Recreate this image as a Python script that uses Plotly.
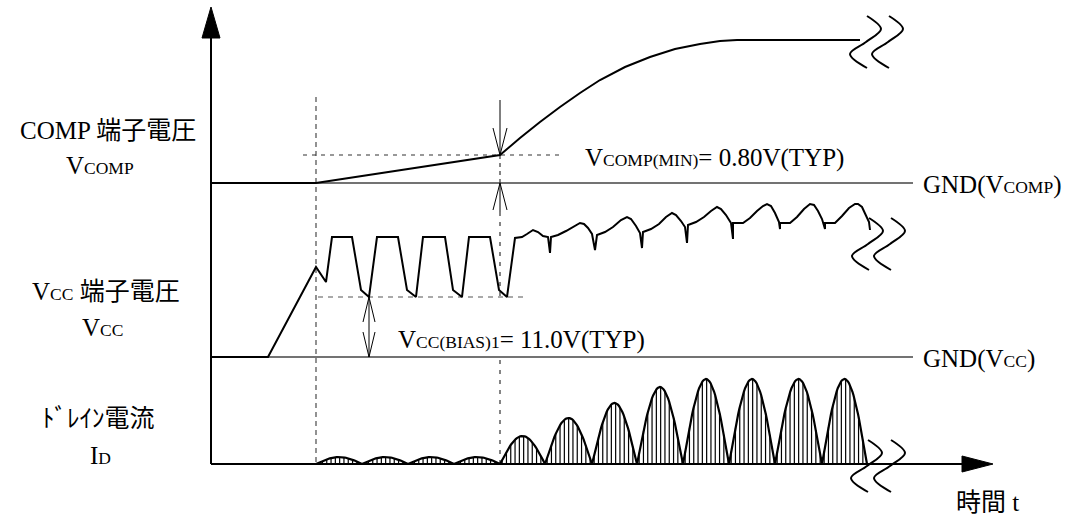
import math
import plotly.graph_objects as go

W, H = 1071, 517
FONT = "Liberation Serif, 'Noto Sans CJK JP', serif"
FS = 25
SUB = '<span style="font-size:17.5px">{}</span>'

# ---------------- diagram frame (diagram units = pixels) ----------------
T0 = 211            # time origin (vertical axis position)
T_END = 993         # tip of time axis arrow
Y_TOP = 7           # tip of vertical axis arrow
ID_BASE = 464       # drain current zero / time axis
GND_COMP = 183
GND_VCC = 357
GND_END = 913
T_START = 316       # start-up instant (first dashed marker)
T_RUN = 500         # V_COMP reaches V_COMP(MIN)
COMP_MIN_LEVEL = 155
VCC_BIAS_LEVEL = 297
VCC_ARROW_T = 369

# ---------------- COMP pin voltage ----------------
comp_t = [211, 316, 500, 520, 540, 560, 580, 600, 625, 650, 675, 700, 720, 737, 860]
comp_v = [183, 183, 155, 138, 122, 107, 93, 80, 67, 57, 49, 44, 41, 40, 40]

# ---------------- VCC pin voltage ----------------
vcc_t = [211, 268, 316, 326, 332, 352, 361, 369, 377, 398, 407, 416, 423, 445, 453, 462,
         469, 490, 499, 507, 515, 522, 527, 533, 538, 543, 548, 550, 551,
         558, 566, 574, 580, 584, 588, 592, 595, 597,
         605, 613, 621, 627, 631, 636, 640, 642, 643,
         651, 659, 666, 672, 676, 681, 685, 687, 688,
         696, 704, 711, 717, 721, 726, 731, 733, 733, 743,
         750, 757, 763, 767, 771, 775, 779, 780, 780, 790,
         797, 804, 810, 814, 818, 822, 825, 825, 835,
         842, 849, 855, 858, 862, 866, 869, 870]
vcc_v = [357, 357, 267, 282, 237, 237, 290, 297, 237, 237, 290, 297, 237, 237, 290, 297,
         237, 237, 290, 297, 238, 237, 234, 230, 232, 236, 237, 253, 237,
         235, 231, 226, 223, 224, 228, 234, 250, 235,
         232, 227, 220, 217, 219, 226, 233, 248, 232,
         229, 224, 217, 213, 215, 221, 227, 243, 225,
         222, 217, 211, 207, 209, 215, 223, 239, 223, 223,
         218, 211, 206, 204, 206, 213, 222, 229, 223, 223,
         217, 209, 204, 205, 211, 219, 229, 223, 223,
         216, 208, 204, 204, 207, 215, 222, 230]

# ---------------- drain current pulses ----------------
id_start = [316, 362, 408, 454, 500, 545, 592, 637, 683, 729, 775, 822]
id_end = [362, 408, 454, 500, 545, 592, 637, 683, 729, 775, 822, 867]
id_peak = [7, 7, 7, 7, 28, 46, 61, 77, 85, 85, 85, 85]
HATCH_STEP = 4.3

# break marks (x centres of the two wavy strokes, top y, height)
break_x = [(866, 888), (868, 890), (867, 890)]
break_y = [16, 218, 440]
BREAK_H = 52

fig = go.Figure()


def line(xs, ys, width=2, color="black", dash=None, shape="linear"):
    fig.add_trace(go.Scatter(x=xs, y=ys, mode="lines", hoverinfo="skip",
                             line=dict(color=color, width=width, dash=dash, shape=shape)))


# ground references
line([T0, GND_END], [GND_COMP, GND_COMP], width=1.3, color="#444")
line([T0, GND_END], [GND_VCC, GND_VCC], width=1.3, color="#444")

# dashed guide lines
line([T_START, T_START], [97, ID_BASE], width=1.6, color="#777", dash="5px,4px")
line([303, 560], [COMP_MIN_LEVEL, COMP_MIN_LEVEL], width=1.2, color="#333", dash="4px,5px")
line([T_RUN, T_RUN], [COMP_MIN_LEVEL, GND_COMP], width=1.2, color="#333", dash="4px,4px")
line([T_RUN, T_RUN], [212, VCC_BIAS_LEVEL], width=1.2, color="#333", dash="4px,6px")
line([T_RUN, T_RUN], [GND_VCC + 3, ID_BASE], width=1.2, color="#333", dash="4px,6px")
line([318, 528], [VCC_BIAS_LEVEL, VCC_BIAS_LEVEL], width=1.2, color="#555", dash="5px,5px")

# dimension arrows : V_COMP(MIN)
line([T_RUN, T_RUN], [100, COMP_MIN_LEVEL], width=1)
line([T_RUN - 7, T_RUN, T_RUN + 7], [128, COMP_MIN_LEVEL, 128], width=1)
line([T_RUN, T_RUN], [GND_COMP, 212], width=1)
line([T_RUN - 7, T_RUN, T_RUN + 7], [210, GND_COMP, 210], width=1)
# dimension arrows : V_CC(BIAS)1
line([VCC_ARROW_T, VCC_ARROW_T], [VCC_BIAS_LEVEL, GND_VCC], width=1)
line([VCC_ARROW_T - 6, VCC_ARROW_T, VCC_ARROW_T + 6], [322, VCC_BIAS_LEVEL, 322], width=1)
line([VCC_ARROW_T - 6, VCC_ARROW_T, VCC_ARROW_T + 6], [332, GND_VCC, 332], width=1)

# waveforms
line(comp_t, comp_v, width=2)
line(vcc_t, vcc_v, width=2)

# drain current pulses with hatching
hx, hy, ox, oy = [], [], [], []
for s, e, p in zip(id_start, id_end, id_peak):
    n = 40
    for i in range(n + 1):
        x = s + (e - s) * i / n
        ox.append(x)
        oy.append(ID_BASE - p * math.sin(math.pi * i / n))
    ox.append(None)
    oy.append(None)
    x = s + HATCH_STEP / 2
    while x < e:
        hx += [x, x, None]
        hy += [ID_BASE, ID_BASE - p * math.sin(math.pi * (x - s) / (e - s)), None]
        x += HATCH_STEP
line(hx, hy, width=1.2)
line(ox, oy, width=2.2)

# axes
line([T0, T0], [ID_BASE, 35], width=2)
line([T0, 962], [ID_BASE, ID_BASE], width=2)
fig.add_trace(go.Scatter(x=[T0 - 9, T0, T0 + 9, T0 - 9], y=[38, Y_TOP, 38, 38], mode="lines",
                         fill="toself", fillcolor="black", line=dict(color="black", width=1),
                         hoverinfo="skip"))
fig.add_trace(go.Scatter(x=[962, T_END, 962, 962], y=[456, ID_BASE, 472, 456], mode="lines",
                         fill="toself", fillcolor="black", line=dict(color="black", width=1),
                         hoverinfo="skip"))

# break marks
for (c1, c2), y0 in zip(break_x, break_y):
    for c in (c1, c2):
        line([c + 1, c + 15, c, c - 16, c + 1],
             [y0, y0 + 13, y0 + BREAK_H / 2, y0 + 38, y0 + BREAK_H],
             width=2, shape="spline")

# texts
texts = [
    ("COMP 端子電圧", 108, 130, "center"),
    ("V" + SUB.format("COMP"), 100, 165, "center"),
    ("V" + SUB.format("CC") + " 端子電圧", 106, 291, "center"),
    ("V" + SUB.format("CC"), 102, 327, "center"),
    ("ﾄﾞﾚｲﾝ電流", 98, 418, "center"),
    ("I" + SUB.format("D"), 100, 455, "center"),
    ("時間 t", 987, 502, "center"),
    ("V" + SUB.format("COMP(MIN)") + "= 0.80V(TYP)", 583, 158, "left"),
    ("V" + SUB.format("CC(BIAS)1") + "= 11.0V(TYP)", 396, 340, "left"),
    ("GND(V" + SUB.format("COMP") + ")", 921, 185, "left"),
    ("GND(V" + SUB.format("CC") + ")", 921, 359, "left"),
]
annotations = []
for txt, x, y, anc in texts:
    annotations.append(dict(text=txt, x=x, y=y, xref="x", yref="y", showarrow=False,
                            xanchor=anc, yanchor="middle",
                            font=dict(family=FONT, size=FS, color="black")))

fig.update_layout(
    width=W, height=H, margin=dict(l=0, r=0, t=0, b=0),
    paper_bgcolor="white", plot_bgcolor="white", showlegend=False,
    xaxis=dict(range=[0, W], visible=False, fixedrange=True),
    yaxis=dict(range=[H, 0], visible=False, fixedrange=True),
    annotations=annotations,
)
fig.write_html("out.html")
